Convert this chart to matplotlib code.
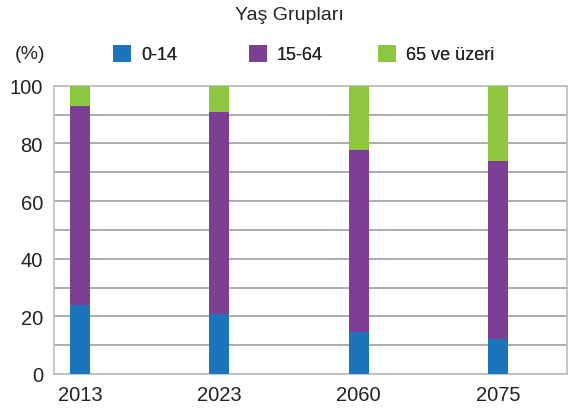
import numpy as np
import matplotlib.pyplot as plt
from matplotlib.patches import Patch

plt.rcParams["font.family"] = ["Liberation Sans", "DejaVu Sans"]

years = ["2013", "2023", "2060", "2075"]
age_0_14 = [24.0, 20.9, 14.7, 12.3]
age_15_64 = [69.0, 70.0, 63.0, 61.7]
age_65_plus = [7.0, 9.1, 22.3, 26.0]
group_labels = ["0-14", "15-64", "65 ve üzeri"]
colors = ["#1a75bc", "#7d3f94", "#8dc63f"]

fig = plt.figure(figsize=(5.74, 4.10), dpi=100)
ax = fig.add_axes([0.0941, 0.0854, 0.8932, 0.7031])

x = np.arange(len(years))
w = 0.144
bottom = np.zeros(len(years))
for vals, c in zip([age_0_14, age_15_64, age_65_plus], colors):
    ax.bar(x, vals, width=w, bottom=bottom, color=c, zorder=3)
    bottom += np.array(vals)

ax.set_xlim(-0.187, 3.494)
ax.set_ylim(0, 100)
ax.set_xticks(x)
ax.set_xticklabels(years, fontsize=14.5)
ax.set_yticks(np.arange(0, 101, 20))
ax.set_yticks(np.arange(0, 101, 10), minor=True)
ax.tick_params(axis="both", which="both", length=0, labelsize=14.5, colors="#222222")
ax.tick_params(axis="x", pad=8)
ax.tick_params(axis="y", pad=8)
ax.grid(axis="y", which="both", color="#a6a6a6", linewidth=1.3, zorder=0)
for s in ax.spines.values():
    s.set_color("#bdbdbd")
    s.set_linewidth(1.2)

fig.text(0.505, 0.963, "Yaş Grupları", ha="center", va="center", fontsize=14, color="#222222")
fig.text(0.052, 0.866, "(%)", ha="center", va="center", fontsize=14, color="#222222")

# one legend per entry, placed at the reference handle positions
for lab, c, xpos in zip(group_labels, colors, [0.197, 0.434, 0.659]):
    leg = fig.legend([Patch(facecolor=c, edgecolor="none")], [lab], loc="center left",
                     bbox_to_anchor=(xpos, 0.866), frameon=False, fontsize=13,
                     handlelength=1.0, handleheight=1.1, handletextpad=0.55,
                     borderpad=0, borderaxespad=0, labelcolor="#222222")
    fig.add_artist(leg)

fig.savefig("out.png", dpi=100)
